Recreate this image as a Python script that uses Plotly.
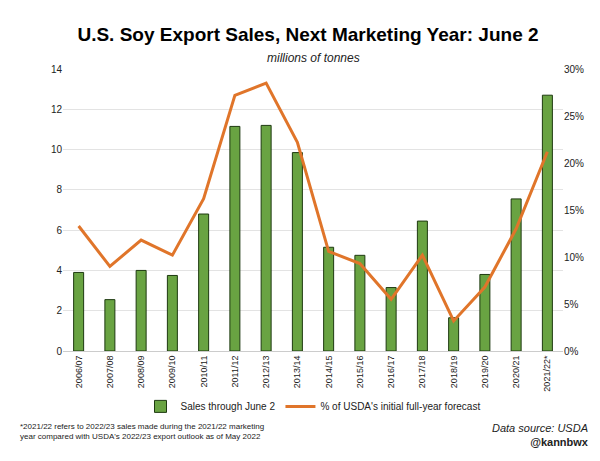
import plotly.graph_objects as go

years = ["2006/07","2007/08","2008/09","2009/10","2010/11","2011/12","2012/13","2013/14",
         "2014/15","2015/16","2016/17","2017/18","2018/19","2019/20","2020/21","2021/22*"]
sales = [3.9,2.55,4.0,3.75,6.8,11.15,11.2,9.85,5.15,4.75,3.15,6.45,1.65,3.8,7.55,12.7]
pct = [13.3,9.0,11.8,10.2,16.2,27.2,28.5,22.2,10.6,9.3,5.5,10.2,3.2,6.8,13.0,21.2]

fig = go.Figure()
fig.add_bar(x=years, y=sales, name="Sales through June 2", marker_color="#69a342",
            marker_line_color="#1e3a10", marker_line_width=1, width=0.32)
fig.add_scatter(x=years, y=[p/100 for p in pct], yaxis="y2", mode="lines",
                name="% of USDA's initial full-year forecast", line=dict(color="#e0752a", width=3))
fig.update_layout(
    width=600, height=461, plot_bgcolor="white", paper_bgcolor="white",
    font=dict(family="Liberation Sans, Arial", color="#222", size=10),
    margin=dict(l=55, r=45, t=61, b=118),
    title=dict(text="<b>U.S. Soy Export Sales, Next Marketing Year: June 2</b>", x=0.5, y=0.957,
               xanchor="center", font=dict(size=19, color="black")),
    annotations=[
        dict(text="<i>millions of tonnes</i>", x=0.5, y=1.0, xref="paper", yref="paper",
             yanchor="bottom", yshift=2, showarrow=False, font=dict(size=12)),
        dict(text="*2021/22 refers to 2022/23 sales made during the 2021/22 marketing<br>year compared with USDA's 2022/23 export outlook as of May 2022",
             x=0, xref="paper", y=-0.245, yref="paper", xshift=-45, xanchor="left", yanchor="top",
             align="left", showarrow=False, font=dict(size=8)),
        dict(text="<i>Data source: USDA</i><br><b>@kannbwx</b>", x=1, xref="paper", y=-0.245, yref="paper",
             xshift=28, xanchor="right", yanchor="top", align="right", showarrow=False, font=dict(size=11)),
    ],
    xaxis=dict(tickangle=-90, showline=True, linecolor="#ccc", tickfont=dict(size=9)),
    yaxis=dict(range=[0,14], dtick=2, gridcolor="#e3e3e3", zeroline=False),
    yaxis2=dict(range=[0,0.3], dtick=0.05, tickformat=".0%", overlaying="y", side="right", showgrid=False),
    legend=dict(orientation="h", x=0.5, xanchor="center", y=-0.145, yanchor="top", font=dict(size=10)),
    bargap=0.5,
)
fig.write_html("out.html")
